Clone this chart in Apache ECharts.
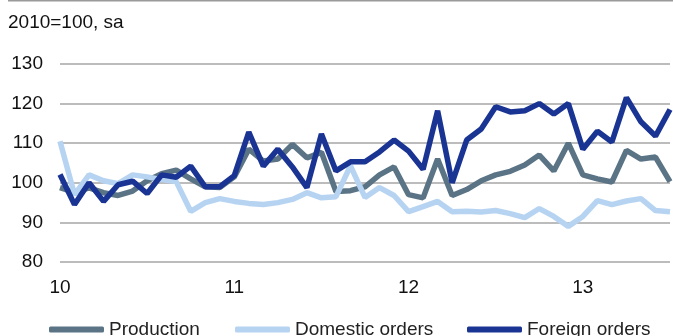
<!DOCTYPE html>
<html>
<head>
<meta charset="utf-8">
<script src="https://cdn.jsdelivr.net/npm/echarts@6/dist/echarts.min.js"></script>
<style>
html,body{margin:0;padding:0;background:#fff;}
#chart{width:673px;height:336px;}
</style>
</head>
<body>
<div id="chart"></div>
<script>
// Monthly, Jan 2010 .. Jul 2013
var categories = [];
for (var y = 2010; y <= 2013; y++) {
  for (var m = 1; m <= 12; m++) {
    if (y === 2013 && m > 7) break;
    categories.push(y + '-' + (m < 10 ? '0' + m : m));
  }
}
var yearTickLabels = ['10', '11', '12', '13'];

var production = [98.8, 97.6, 98.7, 97.5, 96.8, 97.9, 100.5, 102.3, 103.2, 101.0,
  99.0, 98.8, 101.5, 108.5, 105.5, 106.0, 109.7, 106.3, 107.7, 97.8,
  98.0, 99.0, 102.0, 104.0, 97.0, 96.2, 106.0, 96.8, 98.3, 100.5,
  102.0, 102.9, 104.5, 107.0, 103.0, 110.0, 102.0, 101.0, 100.2, 108.2,
  106.0, 106.5, 100.3];

var domesticOrders = [110.5, 97.0, 102.0, 100.5, 99.8, 102.0, 101.5, 100.8, 100.3, 92.8,
  95.0, 96.0, 95.3, 94.8, 94.5, 95.0, 95.8, 97.5, 96.2, 96.5,
  104.3, 96.3, 98.8, 96.8, 92.7, 94.0, 95.3, 92.7, 92.8, 92.6,
  93.0, 92.2, 91.2, 93.5, 91.5, 89.0, 91.5, 95.5, 94.5, 95.4,
  96.0, 93.0, 92.7];

var foreignOrders = [102.1, 94.5, 100.0, 95.3, 99.5, 100.4, 97.3, 102.0, 101.4, 104.2,
  99.0, 99.0, 101.8, 112.8, 104.2, 108.5, 104.0, 98.8, 112.3, 103.0,
  105.3, 105.3, 107.8, 110.8, 108.0, 103.4, 118.2, 100.0, 110.8, 113.6,
  119.2, 117.9, 118.2, 120.0, 117.4, 120.0, 108.5, 113.0, 110.3, 121.5,
  115.4, 111.8, 118.5];

var seriesNames = ['Production', 'Domestic orders', 'Foreign orders'];
var colors = ['#5a7486', '#b6d4f2', '#1a3494'];

var FONT = 'Liberation Sans, Arial, Helvetica, sans-serif';

var chart = echarts.init(document.getElementById('chart'));

function legendFor(idx, left) {
  return {
    data: [seriesNames[idx]],
    left: left,
    top: 320,
    padding: 0,
    itemWidth: 55,
    itemHeight: 6,
    itemGap: 0,
    icon: 'roundRect',
    textStyle: { fontFamily: FONT, fontSize: 19, color: '#222' }
  };
}

var option = {
  animation: false,
  backgroundColor: '#fff',
  color: colors,
  graphic: [
    { type: 'rect', shape: { x: 8, y: 0, width: 665, height: 1.5 }, style: { fill: '#9a9a9a' } },
    { type: 'text', left: 8, top: 13, style: { text: '2010=100, sa', font: '19px ' + FONT, fill: '#111' } }
  ],
  legend: [legendFor(0, 49), legendFor(1, 235), legendFor(2, 467)],
  grid: { left: 60, right: 2, top: 64, bottom: 74, containLabel: false },
  xAxis: {
    type: 'category',
    data: categories,
    boundaryGap: false,
    axisLine: { show: false },
    axisTick: { show: false },
    splitLine: { show: false },
    axisLabel: {
      interval: 0,
      margin: 16,
      fontFamily: FONT,
      fontSize: 19,
      color: '#111',
      formatter: function (v, i) {
        if (i % 12 === 0) return yearTickLabels[i / 12];
        return '';
      }
    }
  },
  yAxis: {
    type: 'value',
    min: 80,
    max: 130,
    interval: 10,
    axisLine: { show: false },
    axisTick: { show: false },
    axisLabel: { margin: 17, fontFamily: FONT, fontSize: 19, color: '#111' },
    splitLine: { lineStyle: { color: '#a6a6a6', width: 1.5 } }
  },
  series: [
    { name: seriesNames[0], type: 'line', data: production, showSymbol: false, symbol: 'none',
      lineStyle: { width: 5.5, color: colors[0] }, itemStyle: { color: colors[0] }, z: 2 },
    { name: seriesNames[1], type: 'line', data: domesticOrders, showSymbol: false, symbol: 'none',
      lineStyle: { width: 5.5, color: colors[1] }, itemStyle: { color: colors[1] }, z: 3 },
    { name: seriesNames[2], type: 'line', data: foreignOrders, showSymbol: false, symbol: 'none',
      lineStyle: { width: 5.5, color: colors[2] }, itemStyle: { color: colors[2] }, z: 4 }
  ]
};
chart.setOption(option);
</script>
</body>
</html>
